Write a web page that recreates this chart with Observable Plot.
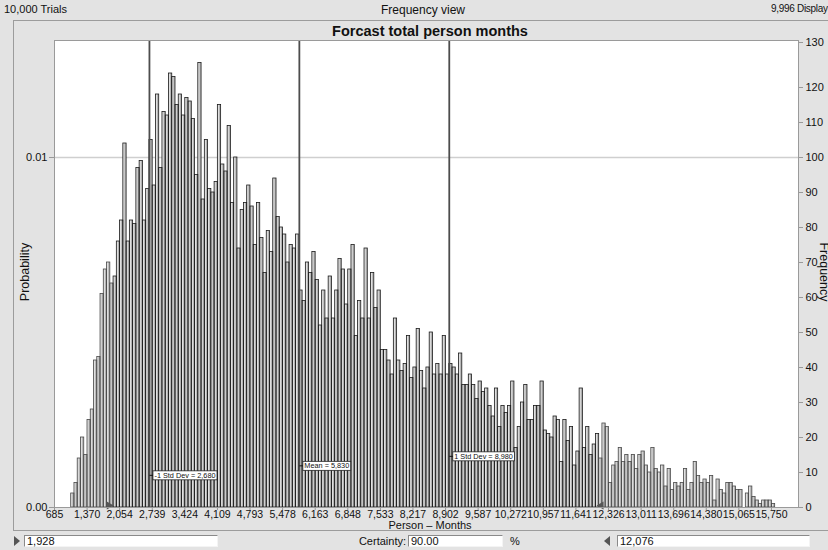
<!DOCTYPE html>
<html><head><meta charset="utf-8">
<script src="https://cdn.jsdelivr.net/npm/d3@7"></script>
<script src="https://cdn.jsdelivr.net/npm/@observablehq/plot@0.6"></script>
<style>
html,body{margin:0;padding:0;background:#e3e3e3;}
#wrap{position:relative;width:828px;height:550px;overflow:hidden;background:#e3e3e3;font-family:"Liberation Sans",Arial,Helvetica,sans-serif;color:#111;}
.abs{position:absolute;white-space:nowrap;line-height:1;}
.field{position:absolute;background:#fff;border-top:1px solid #8a8a8a;border-left:1px solid #8a8a8a;border-bottom:1px solid #f4f4f4;border-right:1px solid #f4f4f4;box-sizing:border-box;font-size:11px;line-height:10px;padding-left:2px;}
#panel{position:absolute;left:13px;top:20px;width:900px;height:511px;border:1px solid #9c9c9c;box-sizing:border-box;}
#wrap svg{position:absolute;left:0;top:0;}
</style></head><body><div id="wrap"><div id="panel"></div></div>
<script>
// ---- data ----
const trials = 10000;
const displayed = 9996;
const viewName = "Frequency view";
const chartTitle = "Forcast total person months";
const xLabel = "Person \u2013 Months";
const yLeftLabel = "Probability";
const yRightLabel = "Frequency";
const binStart = 1036;
const binWidth = 68.48;
const counts = [
  4,7,14,20,15,25,28,42,43,61,
  68,70,64,66,76,82,104,76,82,81,
  97,99,82,91,105,92,118,97,113,112,
  124,123,115,118,112,117,116,111,95,127,
  88,105,91,90,93,115,98,96,109,87,
  100,74,85,87,92,86,75,87,77,67,
  79,73,94,83,80,78,70,75,74,78,
  62,59,70,67,73,65,52,62,54,66,
  54,62,71,68,58,68,75,49,59,54,
  74,54,67,57,62,45,45,42,38,54,
  42,39,41,49,37,40,51,39,34,40,
  50,38,41,38,49,38,41,40,38,44,
  35,35,38,35,31,36,33,34,29,26,
  34,23,29,27,29,36,17,23,30,35,
  25,25,29,29,36,22,21,20,26,25,
  13,25,19,23,12,16,34,17,23,15,
  18,21,14,24,23,7,12,13,17,13,
  15,13,15,11,15,16,12,10,17,11,
  10,12,6,11,5,7,6,7,11,5,
  7,13,9,7,8,7,9,2,8,5,
  4,7,7,6,5,5,0,4,6,3,
  2,1,2,2,2,1
];
const xTicks = [685,1370,2054,2739,3424,4109,4793,5478,6163,6848,7533,8217,8902,9587,10272,10957,11641,12326,13011,13696,14380,15065,15750];
const freqTicks = [0,10,20,30,40,50,60,70,80,90,100,110,120,130];
const probTicks = [0, 0.01];
const statNames = ["-1 Std Dev", "Mean", "1 Std Dev"];
const statValues = [2680, 5830, 8980];
const certaintyLow = 1928;
const certaintyHigh = 12076;
const certaintyPct = 90.00;
const xDomain = [685, 16318];
const yDomain = [0, 133.43];

// ---- build ----
const fmt = d3.format(",");
const wrap = document.getElementById("wrap");
const bins = counts.map((c, i) => {
  const x1 = binStart + i * binWidth, x2 = x1 + binWidth;
  return {x1, x2, xm: x1 + binWidth * 0.5, count: c, inside: x2 > certaintyLow && x1 < certaintyHigh};
});
const labelDy = [-32, -41.5, -51];
const labelText = (i) => `${statNames[i]} = ${fmt(statValues[i])}`;
const labelMarks = statValues.map((v, i) => Plot.text([i], {
  x: () => v, y: () => 0, text: () => labelText(i),
  textAnchor: "start", dx: 5, dy: labelDy[i], fontSize: 7.3, fill: "#111"
}));
const topTick = freqTicks[freqTicks.length - 1];

const svg = Plot.plot({
  width: 828, height: 550,
  marginLeft: 54, marginRight: 30, marginTop: 40, marginBottom: 43,
  style: {background: "transparent", fontFamily: "'Liberation Sans', Arial, Helvetica, sans-serif", fontSize: "11px", color: "#111", overflow: "visible"},
  x: {domain: xDomain, axis: null},
  y: {domain: yDomain, axis: null},
  marks: [
    Plot.frame({fill: "white", stroke: "none"}),
    Plot.ruleY([100], {stroke: "#cfcfcf", strokeWidth: 1.5}),
    Plot.rectY(bins, {x1: "x1", x2: "x2", y: "count", fill: "#b3b3b3"}),
    Plot.rectY(bins, {x1: "x1", x2: "xm", y: "count", fill: "#e0e0e0"}),
    Plot.rectY(bins, {x1: "x1", x2: "x2", y: "count", fill: "none", stroke: d => d.inside ? "#1c1c1c" : "#4a4a4a", strokeWidth: 0.8}),
    Plot.ruleX(statValues, {stroke: "#4d4d4d", strokeWidth: 1.8}),
    ...labelMarks,
    Plot.dot([certaintyLow], {x: d => d, y: () => 0, symbol: "triangle", rotate: 90, r: 3, fill: "#555", dx: -4.6, dy: -2}),
    Plot.dot([certaintyHigh], {x: d => d, y: () => 0, symbol: "triangle", rotate: -90, r: 3, fill: "#555", dx: 4.6, dy: -2}),
    Plot.frame({stroke: "#9a9a9a"}),
    Plot.axisY({anchor: "left", ticks: probTicks.map(p => p * trials), tickFormat: d => (d / trials).toFixed(2), tickSize: 5, tickPadding: 2, label: null, stroke: "#999"}),
    Plot.axisY({anchor: "right", ticks: freqTicks.filter(t => t !== topTick), tickSize: 4, tickPadding: 3, label: null, stroke: "#999"}),
    Plot.axisY({anchor: "right", ticks: [topTick], tickSize: 4, tickPadding: 3, label: null, stroke: "#999", dy: -10}),
    Plot.axisX({ticks: xTicks, tickFormat: fmt, tickSize: 3, tickPadding: 0, label: null, stroke: "#999", fontSize: 10.5})
  ]
});
wrap.appendChild(svg);

// boxes around stat labels
const wanted = new Set(statValues.map((v, i) => labelText(i)));
svg.querySelectorAll("text").forEach(t => {
  if (!wanted.has(t.textContent)) return;
  const bb = t.getBBox();
  const ns = "http://www.w3.org/2000/svg";
  const r = document.createElementNS(ns, "rect");
  r.setAttribute("x", bb.x - 1.5); r.setAttribute("y", bb.y);
  r.setAttribute("width", bb.width + 3); r.setAttribute("height", bb.height);
  r.setAttribute("fill", "#fff"); r.setAttribute("stroke", "#222"); r.setAttribute("stroke-width", "0.8");
  const l = document.createElementNS(ns, "line");
  const cy = bb.y + bb.height / 2;
  l.setAttribute("x1", bb.x - 5); l.setAttribute("x2", bb.x - 1.5); l.setAttribute("y1", cy); l.setAttribute("y2", cy);
  l.setAttribute("stroke", "#111"); l.setAttribute("stroke-width", "1");
  const tr = t.getAttribute("transform");
  if (tr) { r.setAttribute("transform", tr); l.setAttribute("transform", tr); }
  t.parentNode.insertBefore(r, t);
  t.parentNode.insertBefore(l, t);
});

// HTML text overlays
function add(html, css) {
  const d = document.createElement("div");
  d.className = "abs"; d.innerHTML = html; d.style.cssText += css; wrap.appendChild(d); return d;
}
add(`${fmt(trials)} Trials`, "left:4px;top:4px;font-size:11px;");
add(viewName, "left:423px;top:4px;font-size:12px;transform:translateX(-50%);");
add(`${fmt(displayed)} Displayed`, "left:771px;top:4px;font-size:10px;letter-spacing:-0.3px;");
add(chartTitle, "left:430px;top:24px;font-size:14.5px;font-weight:bold;transform:translateX(-50%);");
add(yLeftLabel, "left:25px;top:272px;font-size:12.5px;transform:translate(-50%,-50%) rotate(-90deg);");
add(yRightLabel, "left:824px;top:272px;font-size:12.5px;transform:translate(-50%,-50%) rotate(90deg);");
add(xLabel, "left:430px;top:520px;font-size:11px;transform:translateX(-50%);");
// footer
const tri = (left, dir) => {
  const d = document.createElement("div");
  d.style.cssText = `position:absolute;left:${left}px;top:536px;width:0;height:0;border-top:5px solid transparent;border-bottom:5px solid transparent;` +
    (dir > 0 ? "border-left:6px solid #555;" : "border-right:6px solid #555;");
  wrap.appendChild(d);
};
tri(14, 1);
tri(604, -1);
function field(left, width, txt) {
  const d = document.createElement("div");
  d.className = "field"; d.textContent = txt;
  d.style.cssText += `left:${left}px;top:535px;width:${width}px;height:12px;`;
  wrap.appendChild(d);
}
field(24, 194, fmt(certaintyLow));
field(408, 95, certaintyPct.toFixed(2));
field(617, 193, fmt(certaintyHigh));
add("Certainty:", "left:406px;top:536px;font-size:11px;transform:translateX(-100%);");
add("%", "left:510px;top:536px;font-size:11px;");
</script></body></html>
